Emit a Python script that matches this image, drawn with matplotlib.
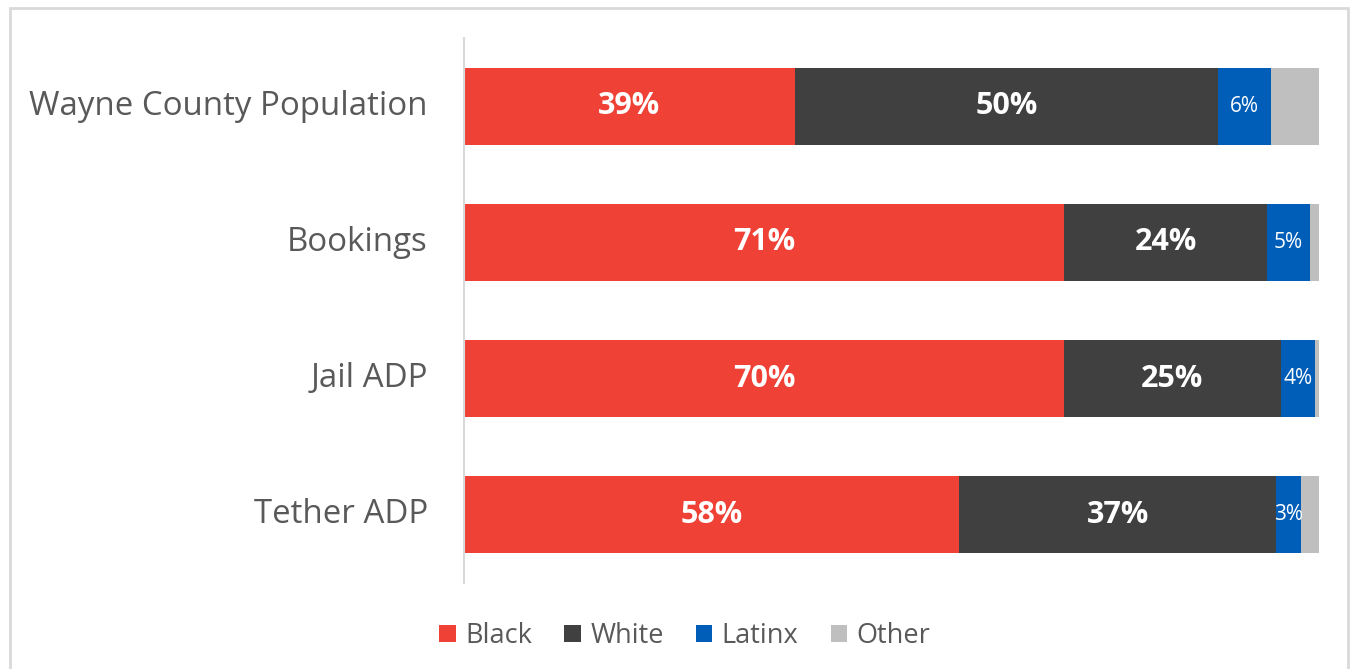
import matplotlib.pyplot as plt
import numpy as np
from matplotlib.patches import Rectangle

plt.rcParams['font.family'] = ['Open Sans', 'DejaVu Sans']

# data (share of each group, %)
categories = ['Wayne County Population', 'Bookings', 'Jail ADP', 'Tether ADP']
groups = ['Black', 'White', 'Latinx', 'Other']
black = [38.7, 70.2, 70.2, 57.9]
white = [49.5, 23.7, 25.3, 37.1]
latinx = [6.2, 5.0, 4.0, 2.9]
other = [5.6, 1.1, 0.5, 2.1]
black_lbl = ['39%', '71%', '70%', '58%']
white_lbl = ['50%', '24%', '25%', '37%']
latinx_lbl = ['6%', '5%', '4%', '3%']

colors = ['#EF4136', '#404040', '#005EB8', '#BFBFBF']
txt_col = '#595959'

fig = plt.figure(figsize=(13.53, 6.69), dpi=100)
ax = fig.add_axes([464/1353, 1 - 583/669, 855/1353, 545/669])

y = np.arange(len(categories))
series = [black, white, latinx, other]
left = np.zeros(len(categories))
bars = []
for vals, col, name in zip(series, colors, groups):
    b = ax.barh(y, vals, left=left, height=0.565, color=col, label=name)
    bars.append(b)
    left = left + np.array(vals)

# labels inside segments
for b, lbls, size, weight in [(bars[0], black_lbl, 22, 'bold'),
                              (bars[1], white_lbl, 22, 'bold'),
                              (bars[2], latinx_lbl, 15, 'normal')]:
    for rect, s in zip(b, lbls):
        cx = rect.get_x() + rect.get_width() / 2
        cy = rect.get_y() + rect.get_height() / 2
        ax.text(cx, cy, s, ha='center', va='center', color='white',
                fontsize=size, fontweight=weight)

ax.set_xlim(0, sum(v[0] for v in series))
ax.set_ylim(3.5, -0.5)
ax.set_yticks(y)
ax.set_yticklabels(categories, fontsize=23.8, color=txt_col, va='center')
ax.tick_params(axis='y', length=0, pad=26)
ax.set_xticks([])
for sp in ['top', 'right', 'bottom']:
    ax.spines[sp].set_visible(False)
ax.spines['left'].set_color('#D9D9D9')
ax.spines['left'].set_linewidth(1.5)

leg = fig.legend(loc='center', bbox_to_anchor=(685/1353, 1 - 636/669), ncol=4,
                 frameon=False, fontsize=19.5, handlelength=0.6, handleheight=0.6,
                 handletextpad=0.35, columnspacing=1.2)
for t in leg.get_texts():
    t.set_color(txt_col)

# outer chart border
fig.patches.append(Rectangle((10/1353, -0.05), 1338/1353, 1.05 - 8/669,
                             transform=fig.transFigure, fill=False,
                             edgecolor='#D9D9D9', linewidth=2))

fig.savefig('out.png', dpi=100)
